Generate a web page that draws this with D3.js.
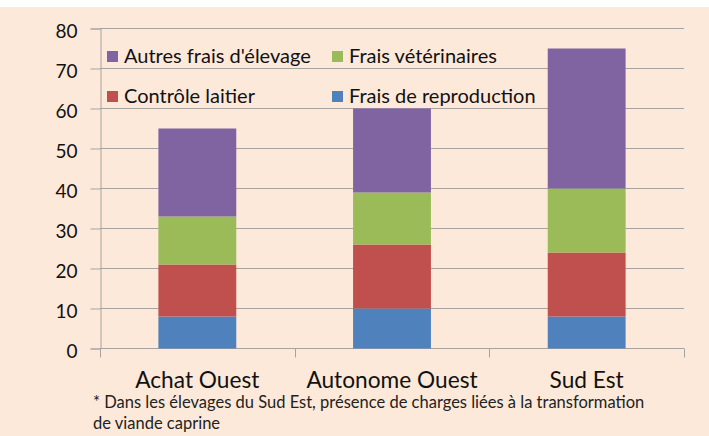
<!DOCTYPE html>
<html>
<head>
<meta charset="utf-8">
<script src="https://cdn.jsdelivr.net/npm/d3@7"></script>
<style>
  body { margin: 0; background: #fff; }
  svg { display: block; }
  text { font-family: Lato, "Open Sans", sans-serif; fill: #111; }
</style>
</head>
<body>
<svg width="709" height="436"></svg>
<script>
var categories = ["Achat Ouest", "Autonome Ouest", "Sud Est"];
var seriesNames = ["Frais de reproduction", "Contrôle laitier", "Frais vétérinaires", "Autres frais d'élevage"];
var reproduction = [8, 10, 8];
var controle = [13, 16, 16];
var veterinaires = [12, 13, 16];
var autres = [22, 21, 35];
var colors = ["#4f81bd", "#c0504d", "#9bbb59", "#8064a2"];
var yTicks = [0, 10, 20, 30, 40, 50, 60, 70, 80];
var legendOrder = [3, 2, 1, 0];
var note = ["* Dans les élevages du Sud Est, présence de charges liées à la transformation",
            "de viande caprine"];

var svg = d3.select("svg"),
    width = +svg.attr("width"),
    height = +svg.attr("height");

// background
svg.append("rect").attr("width", width).attr("height", height).attr("fill", "#fde9d9");
svg.append("rect").attr("width", width).attr("height", 7).attr("fill", "#fff");

var rows = categories.map(function(c, i) {
  return { cat: c, s0: reproduction[i], s1: controle[i], s2: veterinaires[i], s3: autres[i] };
});
var stacked = d3.stack().keys(["s0", "s1", "s2", "s3"])(rows);

var x = d3.scaleBand().domain(categories).range([100, 684]).padding(0);
var y = d3.scaleLinear().domain([0, 80]).range([348.5, 28.5]);

// gridlines
svg.append("g")
  .selectAll("line")
  .data(yTicks)
  .enter().append("line")
    .attr("x1", 100).attr("x2", 684)
    .attr("y1", function(d) { return y(d); })
    .attr("y2", function(d) { return y(d); })
    .style("stroke", "#a9a39e")
    .style("stroke-width", 1);

// y axis
var yAxis = svg.append("g")
  .attr("transform", "translate(100.5,0)")
  .call(d3.axisLeft(y).tickValues(yTicks).tickSize(10).tickPadding(13));
yAxis.select(".domain").attr("stroke", "#a9a39e");
yAxis.selectAll(".tick line").attr("stroke", "#a9a39e");
yAxis.selectAll("text")
  .style("font-size", "19px")
  .attr("dy", "0.45em")
  .style("fill", "#111");

// x axis: boundary ticks
var bounds = categories.map(function(c) { return x(c); }).concat([x(categories[2]) + x.step()]);
svg.append("line")
  .attr("x1", 100).attr("x2", 684).attr("y1", y(0)).attr("y2", y(0))
  .style("stroke", "#a9a39e");
svg.append("g")
  .selectAll("line")
  .data(bounds)
  .enter().append("line")
    .attr("x1", function(d) { return Math.round(d) + 0.5; })
    .attr("x2", function(d) { return Math.round(d) + 0.5; })
    .attr("y1", y(0)).attr("y2", y(0) + 9)
    .style("stroke", "#a9a39e");

// bars
var barW = x.step() * 0.4;
svg.append("g")
  .selectAll("g")
  .data(stacked)
  .enter().append("g")
    .attr("fill", function(d, i) { return colors[i]; })
  .selectAll("rect")
  .data(function(d) { return d; })
  .enter().append("rect")
    .attr("x", function(d) { return x(d.data.cat) + (x.step() - barW) / 2; })
    .attr("y", function(d) { return y(d[1]); })
    .attr("width", barW)
    .attr("height", function(d) { return y(d[0]) - y(d[1]); });

// category labels
svg.append("g")
  .selectAll("text")
  .data(categories)
  .enter().append("text")
    .attr("x", function(d) { return x(d) + x.step() / 2; })
    .attr("y", 388)
    .attr("text-anchor", "middle")
    .style("font-size", "22.7px")
    .text(function(d) { return d; });

// legend
var legendPos = [[107, 51], [332, 51], [107, 91], [332, 91]];
var legend = svg.append("g")
  .selectAll("g")
  .data(legendOrder)
  .enter().append("g")
    .attr("transform", function(d, i) { return "translate(" + legendPos[i][0] + "," + legendPos[i][1] + ")"; });
legend.append("rect")
  .attr("width", 11).attr("height", 11)
  .attr("fill", function(d) { return colors[d]; });
legend.append("text")
  .attr("x", 17).attr("y", 12)
  .style("font-size", "20px")
  .text(function(d) { return seriesNames[d]; });

// footnote
svg.append("g")
  .selectAll("text")
  .data(note)
  .enter().append("text")
    .attr("x", 93)
    .attr("y", function(d, i) { return 408 + i * 21; })
    .style("font-size", "16.5px")
    .style("fill", "#222")
    .text(function(d) { return d; });
</script>
</body>
</html>
